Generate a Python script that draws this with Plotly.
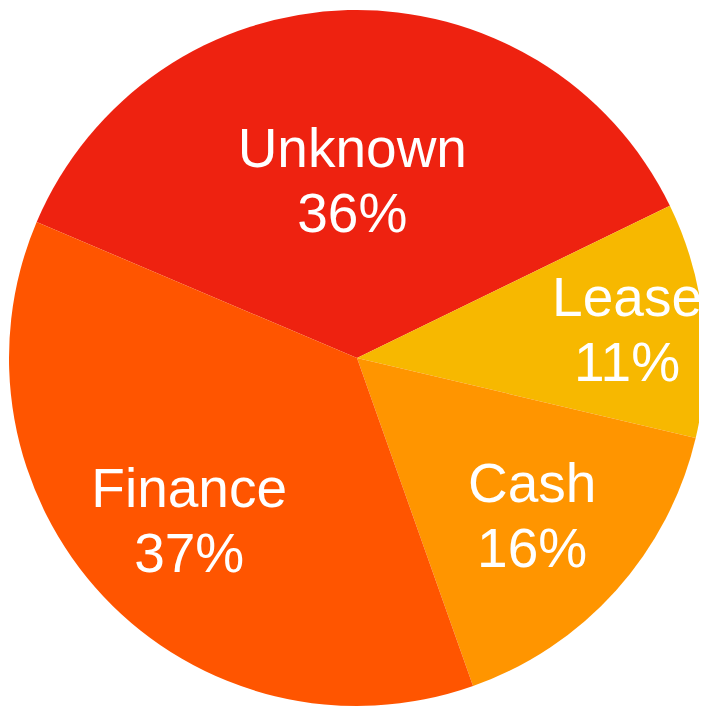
import plotly.graph_objects as go

labels = ["Unknown", "Lease", "Cash", "Finance"]
values = [36.4, 10.9, 15.9, 36.8]
colors = ["#EE2210", "#F7B800", "#FF9500", "#FF5500"]

NB = "\u00a0"
big = 'style="font-size:55px"'


def pad(n, px):
    return f'<span style="font-size:{px}px">{NB * n}</span>' if n else ""


def tmpl(lead=(0, 0), trail=(0, 0), blank_top=0, wrap1=(0, 0)):
    top = f"{pad(1, blank_top)}<br>" if blank_top else ""
    l1 = f"{pad(*wrap1)}{pad(*lead)}<span {big}>%{{label}}</span>{pad(*trail)}{pad(*wrap1)}"
    l2 = f"{pad(*lead)}<span {big}>%{{percent:.0%}}</span>{pad(*trail)}"
    return top + l1 + "<br>" + l2


templates = [
    tmpl(wrap1=(1, 66)),
    tmpl(lead=(2, 40)),
    tmpl(),
    tmpl(trail=(5, 51), blank_top=69),
]

fig = go.Figure(go.Pie(
    labels=labels,
    values=values,
    sort=False,
    direction="clockwise",
    rotation=-67,
    marker=dict(colors=colors, line=dict(width=0)),
    texttemplate=templates,
    textposition="inside",
    insidetextorientation="horizontal",
    textfont=dict(family="Liberation Sans, Arial, Helvetica, sans-serif", size=50, color="white"),
    hoverinfo="none",
    showlegend=False,
))
fig.update_layout(
    width=707, height=709,
    margin=dict(l=1, r=10, t=2, b=11),
    paper_bgcolor="white",
    uniformtext=dict(minsize=50, mode="show"),
)
fig.write_html("out.html")
